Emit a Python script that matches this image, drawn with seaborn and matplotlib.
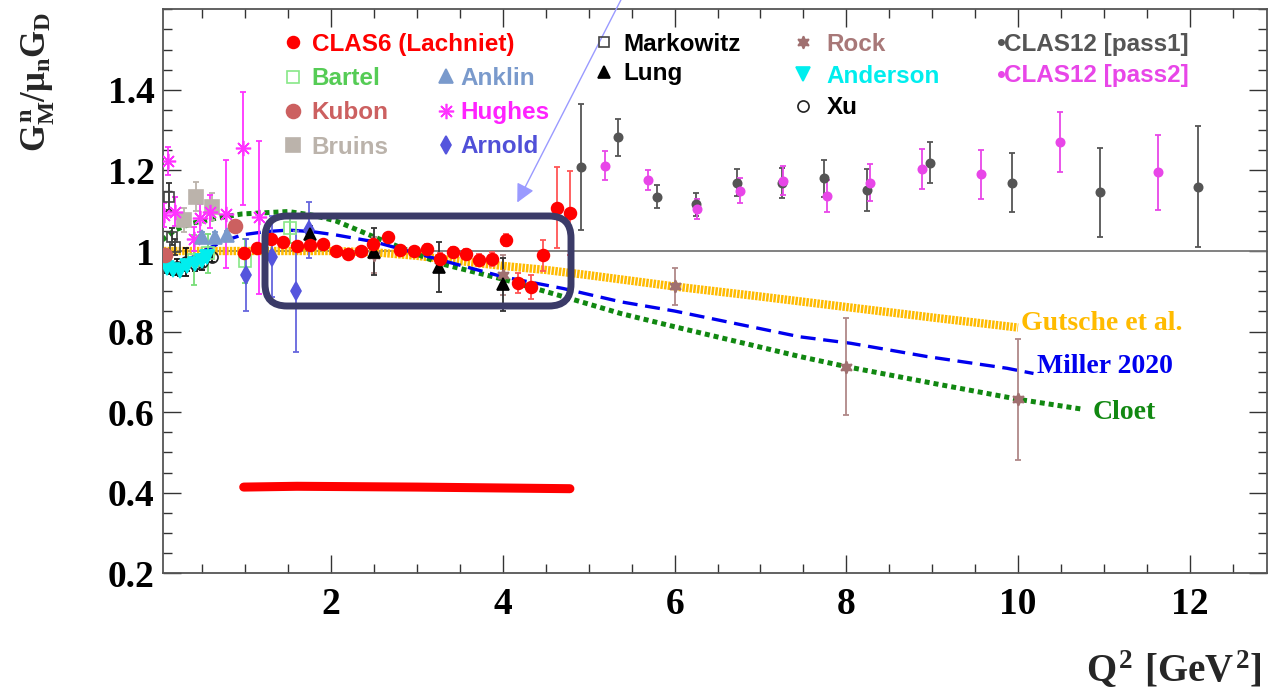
import numpy as np
import matplotlib
matplotlib.use('Agg')
import matplotlib.pyplot as plt
import matplotlib.lines as mlines
from matplotlib.patches import FancyBboxPatch
from matplotlib.ticker import MultipleLocator, FuncFormatter
import seaborn as sns

# ---- data ----
clas6_x = [0.98, 1.14, 1.30, 1.44, 1.60, 1.75, 1.90, 2.05, 2.20, 2.35, 2.49, 2.66, 2.80, 2.96, 3.11,
           3.27, 3.42, 3.57, 3.72, 3.87, 4.03, 4.17, 4.33, 4.47, 4.63, 4.78]
clas6_y = [0.994, 1.008, 1.031, 1.023, 1.012, 1.014, 1.018, 1.001, 0.992, 1.001, 1.017, 1.034, 1.002,
           0.999, 1.005, 0.980, 0.998, 0.993, 0.977, 0.981, 1.028, 0.920, 0.910, 0.989, 1.108, 1.094]
clas6_e = [0.012, 0.01, 0.01, 0.01, 0.01, 0.01, 0.01, 0.01, 0.01, 0.01, 0.01, 0.01, 0.01, 0.01, 0.012,
           0.015, 0.012, 0.012, 0.015, 0.017, 0.015, 0.025, 0.03, 0.038, 0.10, 0.105]

bartel_x = [0.40, 0.56, 1.00, 1.52]
bartel_y = [0.978, 0.994, 0.975, 1.056]
bartel_e = [0.062, 0.048, 0.055, 0.037]

kubon_x = [0.066, 0.88]
kubon_y = [0.99, 1.062]
kubon_e = [0.01, 0.01]

bruins_x = [0.28, 0.42, 0.61]
bruins_y = [1.077, 1.135, 1.11]
bruins_e = [0.03, 0.036, 0.033]

anklin_x = [0.49, 0.65, 0.79]
anklin_y = [1.036, 1.036, 1.04]
anklin_e = [0.01, 0.01, 0.01]

hughes_x = [0.047, 0.098, 0.18, 0.40, 0.47, 0.59, 0.777, 0.967, 1.16]
hughes_y = [1.089, 1.224, 1.098, 1.03, 1.081, 1.098, 1.092, 1.255, 1.084]
hughes_e = [0.03, 0.035, 0.035, 0.03, 0.035, 0.04, 0.135, 0.14, 0.19]

arnold_x = [1.006, 1.31, 1.59, 1.745]
arnold_y = [0.94, 0.986, 0.90, 1.052]
arnold_e = [0.09, 0.1, 0.15, 0.07]

markowitz_x = [0.11, 0.15, 0.18]
markowitz_y = [1.135, 1.036, 1.01]
markowitz_e = [0.033, 0.02, 0.02]

lung_x = [1.75, 2.5, 3.25, 4.0]
lung_y = [1.042, 0.998, 0.961, 0.917]
lung_e = [0.02, 0.058, 0.062, 0.065]

rock_x = [2.5, 4.0, 6.0, 8.0, 10.0]
rock_y = [0.99, 0.94, 0.912, 0.713, 0.632]
rock_e = [0.045, 0.05, 0.046, 0.12, 0.15]

anderson_x = [0.09, 0.16, 0.24, 0.32, 0.41, 0.49, 0.55]
anderson_y = [0.957, 0.953, 0.951, 0.962, 0.968, 0.976, 0.985]
anderson_e = [0.012, 0.012, 0.012, 0.012, 0.012, 0.012, 0.012]

xu_x = [0.105, 0.20, 0.31, 0.41, 0.49, 0.61]
xu_y = [0.962, 0.960, 0.972, 0.968, 0.972, 0.985]
xu_e = [0.018, 0.02, 0.035, 0.018, 0.02, 0.013]

pass1_x = [4.91, 5.34, 5.80, 6.25, 6.73, 7.25, 7.74, 8.24, 8.97, 9.93, 10.96, 12.10]
pass1_y = [1.208, 1.282, 1.135, 1.116, 1.170, 1.168, 1.180, 1.151, 1.219, 1.170, 1.146, 1.160]
pass1_e = [0.157, 0.046, 0.028, 0.029, 0.033, 0.037, 0.045, 0.052, 0.051, 0.073, 0.11, 0.15]

pass2_x = [5.19, 5.69, 6.26, 6.76, 7.26, 7.78, 8.27, 8.88, 9.57, 10.49, 11.63]
pass2_y = [1.212, 1.176, 1.104, 1.149, 1.174, 1.137, 1.170, 1.204, 1.190, 1.271, 1.195]
pass2_e = [0.036, 0.024, 0.025, 0.031, 0.036, 0.04, 0.047, 0.05, 0.06, 0.075, 0.092]

gutsche_x = [0.05, 1.0, 2.0, 2.5, 3.0, 3.5, 4.0, 4.5, 5.0, 6.0, 7.0, 8.0, 9.0, 10.0]
gutsche_y = [1.0, 1.0, 1.0, 0.997, 0.988, 0.975, 0.963, 0.953, 0.94, 0.912, 0.887, 0.861, 0.835, 0.81]

miller_x = [0.03, 0.16, 0.33, 0.53, 0.73, 0.96, 1.23, 1.5, 1.78, 2.05, 2.5, 3.27, 4.0, 4.7, 5.37, 6.0,
            7.46, 8.05, 8.94, 9.87, 10.18]
miller_y = [0.965, 0.963, 0.978, 1.002, 1.023, 1.04, 1.048, 1.052, 1.048, 1.04, 1.023, 0.978, 0.936,
            0.907, 0.874, 0.851, 0.787, 0.771, 0.738, 0.709, 0.696]

cloet_x = [0.03, 0.18, 0.38, 0.65, 0.96, 1.23, 1.5, 1.78, 2.05, 2.5, 3.27, 4.0, 4.7, 5.37, 6.0, 7.46,
           8.0, 9.0, 10.0, 10.76]
cloet_y = [1.027, 1.052, 1.069, 1.081, 1.092, 1.095, 1.098, 1.089, 1.075, 1.035, 0.969, 0.93, 0.887,
           0.845, 0.812, 0.738, 0.713, 0.672, 0.632, 0.607]

red_band_x = [0.98, 1.6, 3.0, 4.78]
red_band_y = [0.414, 0.416, 0.414, 0.41]

sns.set_theme(style='ticks')
plt.rcParams['font.family'] = ['Liberation Serif', 'DejaVu Serif']
plt.rcParams['font.weight'] = 'bold'
plt.rcParams['mathtext.fontset'] = 'custom'
plt.rcParams['mathtext.rm'] = 'Liberation Serif:bold'
plt.rcParams['mathtext.it'] = 'Liberation Serif:bold'
plt.rcParams['mathtext.bf'] = 'Liberation Serif:bold'

fig = plt.figure(figsize=(12.68, 6.9), dpi=100)
ax = fig.add_axes([163 / 1268, 1 - 573.3 / 690, (1267 - 163) / 1268, (573.3 - 9.3) / 690])
ax.set_facecolor('white')

ax.axhline(1.0, color='#777777', lw=1.3, zorder=1)

# theory curves
sns.lineplot(x=gutsche_x, y=gutsche_y, ax=ax, sort=False, estimator=None, color='#ffbb00', lw=6, zorder=2)
ax.lines[-1].set_dashes((0.3, 0.14))
ax.lines[-1].set_dash_capstyle('butt')
sns.lineplot(x=cloet_x, y=cloet_y, ax=ax, sort=False, estimator=None, color='#118811', lw=3.6, zorder=2)
ax.lines[-1].set_dashes((1.0, 0.8))
ax.lines[-1].set_dash_capstyle('butt')
sns.lineplot(x=miller_x, y=miller_y, ax=ax, sort=False, estimator=None, color='#0000ee', lw=2.4, zorder=2)
ax.lines[-1].set_dashes((4.5, 2.3))

sns.lineplot(x=red_band_x, y=red_band_y, ax=ax, sort=False, estimator=None, color='#ff0000', lw=6.5, zorder=2)

series = [
    # label, x, y, err, color, marker, ms, mfc, ecolor, text color
    ('Xu', xu_x, xu_y, xu_e, '#222222', 'o', 8, 'none', '#111111', 'black'),
    ('Markowitz', markowitz_x, markowitz_y, markowitz_e, '#444444', 's', 7, 'none', '#333333', 'black'),
    ('Bruins', bruins_x, bruins_y, bruins_e, '#bbb3ab', 's', 10, '#bbb3ab', '#bbb3ab', '#bbb3ab'),
    ('Bartel', bartel_x, bartel_y, bartel_e, '#88e888', 's', 8, 'none', '#77dd77', '#55cc55'),
    ('Hughes', hughes_x, hughes_y, hughes_e, '#ff33ff', (8, 2, 0), 11, '#ff33ff', '#ff33ff', '#ff22ff'),
    ('Anklin', anklin_x, anklin_y, anklin_e, '#7a9acc', '^', 10, '#7a9acc', '#7a9acc', '#7a9acc'),
    ('Anderson', anderson_x, anderson_y, anderson_e, '#00eeee', 'v', 10, '#00eeee', '#111111', '#00eeee'),
    ('Kubon', kubon_x, kubon_y, kubon_e, '#cc6060', 'o', 10, '#cc6060', '#cc6060', '#cc6060'),
    ('Arnold', arnold_x, arnold_y, arnold_e, '#5555dd', 'd', 9, '#5555dd', '#6666dd', '#5050d8'),
    ('Rock', rock_x, rock_y, rock_e, '#a07070', (6, 1, 0), 9, '#a07070', '#b08888', '#a87878'),
    ('Lung', lung_x, lung_y, lung_e, '#000000', '^', 9, '#000000', '#333333', 'black'),
    ('CLAS6 (Lachniet)', clas6_x, clas6_y, clas6_e, '#ff0000', 'o', 8.5, '#ff0000', '#ff5555', '#ff0000'),
    ('CLAS12 [pass1]', pass1_x, pass1_y, pass1_e, '#555555', 'o', 6, '#555555', '#555555', '#555555'),
    ('CLAS12 [pass2]', pass2_x, pass2_y, pass2_e, '#e846e8', 'o', 6, '#e846e8', '#e846e8', '#e846e8'),
]

handles = {}
for z, (lab, xs, ys, es, col, mk, ms, mfc, ecol, tcol) in enumerate(series):
    ax.errorbar(xs, ys, yerr=es, fmt='none', ecolor=ecol, elinewidth=1.3, capsize=2.5, capthick=1.3,
                zorder=3 + z * 0.01)
    ax.plot(xs, ys, ls='none', marker=mk, ms=ms, mfc=mfc, mec=col, mew=1.2, zorder=4 + z * 0.01)
    hms = 3.8 if lab.startswith('CLAS12') else ms
    handles[lab] = (mlines.Line2D([], [], ls='none', marker=mk, ms=hms, mfc=mfc, mec=col, mew=1.2), tcol)

# box and arrow
box = FancyBboxPatch((2.65, 3.84), 3.06, 0.90, boxstyle='round,pad=0,rounding_size=0.22',
                     transform=fig.dpi_scale_trans, fill=False, ec='#3b3b68', lw=5, zorder=6, clip_on=False)
ax.add_patch(box)
ax.annotate('', xy=(516, 690 - 205), xycoords='figure pixels', xytext=(626, 700), textcoords='figure pixels',
            arrowprops=dict(arrowstyle='-|>', color='#9a9aff', lw=1.0, mutation_scale=28),
            annotation_clip=False, zorder=7)

# curve labels
ax.text(10.03, 0.821, 'Gutsche et al.', color='#ffbb00', fontsize=20, va='center', ha='left')
ax.text(10.22, 0.713, 'Miller 2020', color='#0000ee', fontsize=20, va='center', ha='left')
ax.text(10.87, 0.600, 'Cloet', color='#118811', fontsize=20, va='center', ha='left')

# legends
legend_cols = [
    (['CLAS6 (Lachniet)', 'Bartel', 'Kubon', 'Bruins'], 281, 33, 0.27, 1.0, 0.46),
    (['Anklin', 'Hughes', 'Arnold'], 434, 67, 0.08, 1.0, 0.46),
    (['Markowitz', 'Lung'], 592, 33, 0.3, 1.0, 0.25),
    (['Rock', 'Anderson', 'Xu'], 791, 33, 0.46, 1.0, 0.36),
    (['CLAS12 [pass1]', 'CLAS12 [pass2]'], 997, 33, 0.0, 0.3, 0.33),
]
for labs, left, top, pad, hlen, lsp in legend_cols:
    leg = fig.legend([handles[l][0] for l in labs], labs, loc='upper left',
                     bbox_to_anchor=(left / 1268, 1 - top / 690), frameon=False, borderpad=0,
                     borderaxespad=0, handlelength=hlen, handletextpad=pad, labelspacing=lsp,
                     prop={'family': 'Liberation Sans', 'weight': 'bold', 'size': 17.5})
    for t, l in zip(leg.get_texts(), labs):
        t.set_color(handles[l][1])

# axes styling
ax.set_xlim(0.04, 12.90)
ax.set_ylim(0.2, 1.6)
ax.set_xticks([2, 4, 6, 8, 10, 12])
ax.set_yticks([0.2, 0.4, 0.6, 0.8, 1.0, 1.2, 1.4])
ax.xaxis.set_minor_locator(MultipleLocator(0.5))
ax.yaxis.set_minor_locator(MultipleLocator(0.05))
fmt = FuncFormatter(lambda v, _: f'{v:g}')
ax.xaxis.set_major_formatter(fmt)
ax.yaxis.set_major_formatter(fmt)
ax.tick_params(which='both', direction='in', top=True, right=True, colors='#333333', width=1.0)
ax.tick_params(which='major', length=13)
ax.tick_params(which='minor', length=6.5)
ax.tick_params(axis='x', which='major', labelsize=27, pad=10, labelcolor='black')
ax.tick_params(axis='y', which='major', labelsize=27, pad=6, labelcolor='black')
for s in ax.spines.values():
    s.set_color('#555555')
    s.set_linewidth(1.3)

fig.text(0.030, 0.982, r'$G^{n}_{M}/\mu_{n}G_{D}$', rotation=90, ha='center', va='top', fontsize=25)
fig.text(1262 / 1268, 1 - 670 / 690, r'$Q^{2}\ [GeV^{2}]$', ha='right', va='center', fontsize=28)

fig.savefig('out.png', dpi=100)
